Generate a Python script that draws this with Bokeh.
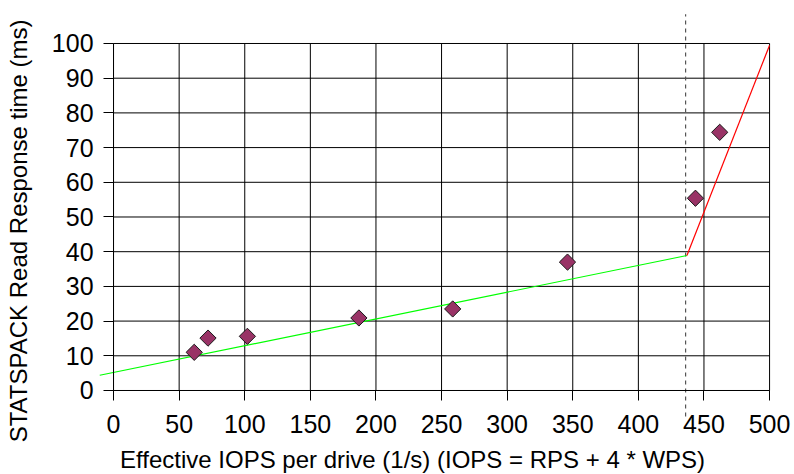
from bokeh.plotting import figure
from bokeh.models import Range1d, FixedTicker, Label
from bokeh.embed import file_html
from bokeh.resources import INLINE
import math

# Data
iops = [61.5, 72, 102, 187, 258.5, 346, 443.5, 462]
resp = [11.0, 15.1, 15.6, 20.9, 23.5, 37.0, 55.4, 74.4]

fit_low_x = [-10.5, 437]
fit_low_y = [4.4, 38.9]
fit_high_x = [437, 500]
fit_high_y = [38.9, 99.5]

knee_x = [436, 436]
knee_y = [-7.5, 108.4]

x_ticks = [0, 50, 100, 150, 200, 250, 300, 350, 400, 450, 500]
y_ticks = [0, 10, 20, 30, 40, 50, 60, 70, 80, 90, 100]

X_MIN, X_MAX = 0, 500
Y_MIN, Y_MAX = 0, 100

FONT = "Liberation Sans"

# The frame fills the whole canvas; the axes sit at fixed data positions so the
# fit lines and the knee marker can run past the plot box as in the reference.
W, H = 794, 474
p = figure(width=W, height=H, output_backend="svg", toolbar_location=None,
           x_range=Range1d(-86.16, 519.0), y_range=Range1d(-24.21, 112.39),
           min_border_left=0, min_border_right=0, min_border_top=0, min_border_bottom=0)
p.background_fill_color = "white"
p.border_fill_color = "white"
p.outline_line_color = None
p.xgrid.visible = False
p.ygrid.visible = False

for ax, ticks in ((p.xaxis, x_ticks), (p.yaxis, y_ticks)):
    ax.ticker = FixedTicker(ticks=ticks)
    ax.fixed_location = 0
    ax.axis_line_color = "black"
    ax.major_tick_line_color = "black"
    ax.major_tick_out = 10
    ax.major_tick_in = 0
    ax.minor_tick_line_color = None
    ax.major_label_text_font = FONT
    ax.major_label_text_font_size = "25px"
    ax.major_label_text_color = "black"
p.xaxis.bounds = (X_MIN, X_MAX)
p.yaxis.bounds = (Y_MIN, Y_MAX)
p.xaxis.major_label_standoff = 15
p.yaxis.major_label_standoff = 10

# grid lines (box) drawn from the tick lists
p.segment(x0=x_ticks, y0=[Y_MIN] * len(x_ticks), x1=x_ticks, y1=[Y_MAX] * len(x_ticks),
          line_color="black", line_width=1)
p.segment(x0=[X_MIN] * len(y_ticks), y0=y_ticks, x1=[X_MAX] * len(y_ticks), y1=y_ticks,
          line_color="black", line_width=1)

# axis titles
p.add_layout(Label(x=227.9, y=-19.8, text="Effective IOPS per drive (1/s) (IOPS = RPS + 4 * WPS)",
                   text_font=FONT, text_font_size="24px", text_color="black",
                   text_align="center", text_baseline="alphabetic"))
p.add_layout(Label(x=-72.5, y=46.0, text="STATSPACK Read Response time (ms)", angle=math.pi / 2,
                   text_font=FONT, text_font_size="24px", text_color="black",
                   text_align="center", text_baseline="alphabetic"))

p.line(knee_x, knee_y, line_color="#555555", line_width=1.2, line_dash="4 4")
p.line(fit_low_x, fit_low_y, line_color="#00ff00", line_width=1.2)
p.line(fit_high_x, fit_high_y, line_color="#ff0000", line_width=1.2)

p.scatter(iops, resp, marker="square", size=11.5, angle=math.pi / 4,
          fill_color="#993366", line_color="#1a1a1a", line_width=1)

open("out.html", "w").write(file_html(p, INLINE))
